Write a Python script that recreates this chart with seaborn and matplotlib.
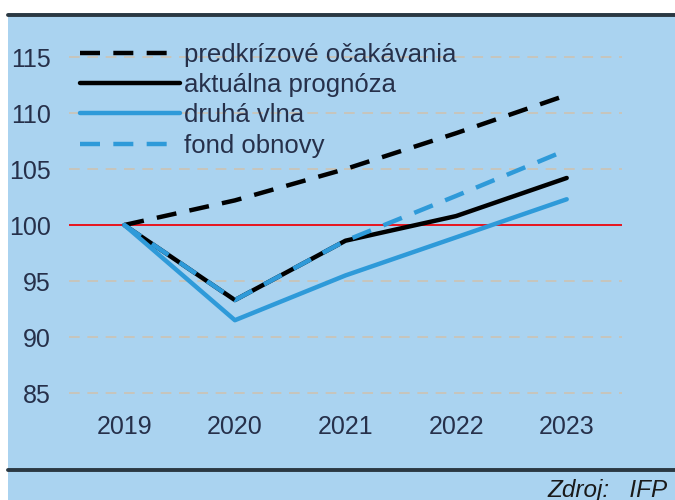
import matplotlib
matplotlib.use("Agg")
import matplotlib.pyplot as plt
from matplotlib.lines import Line2D
from matplotlib.patches import Rectangle
import pandas as pd
import seaborn as sns

years = [2019, 2020, 2021, 2022, 2023]
pred_crisis = [100, 102.2, 105.0, 108.2, 111.6]
current = [100, 93.3, 98.6, 100.8, 104.2]
second_wave = [100, 91.5, 95.5, 98.9, 102.3]
recovery_fund = [100, 93.3, 98.6, 102.6, 106.7]

names = ["predkrízové očakávania", "aktuálna prognóza", "druhá vlna", "fond obnovy"]
y_ticks = [85, 90, 95, 100, 105, 110, 115]

BG = "#aad3f0"
BLUE = "#2e9ad9"
TEXT = "#26304a"

df = pd.DataFrame({
    "rok": years * 4,
    "hodnota": pred_crisis + current + second_wave + recovery_fund,
    "scenár": [n for n in names for _ in years],
})

sns.set_style("white")
plt.rcParams["font.family"] = ["Liberation Sans", "DejaVu Sans"]

fig = plt.figure(figsize=(6.75, 5), dpi=100, facecolor=BG)
ax = fig.add_axes([69 / 675, 1 - 405 / 500, 553 / 675, 365 / 500])
ax.set_facecolor(BG)

# grid + red reference line
for t in y_ticks:
    if t != 100:
        gl = ax.axhline(t, color="#cfc2ae", lw=1.1, zorder=1.5)
        gl.set_dashes((7, 5))
ax.axhline(100, color="#e8141e", lw=1.4, zorder=1.6)

sns.lineplot(
    data=df, x="rok", y="hodnota", hue="scenár", style="scenár",
    hue_order=names, style_order=names,
    palette={names[0]: "black", names[1]: "black", names[2]: BLUE, names[3]: BLUE},
    dashes={names[0]: (4.5, 3), names[1]: "", names[2]: "", names[3]: (4.5, 3)},
    linewidth=3.2, ax=ax, zorder=3,
)

ax.set_xlim(2018.5, 2023.5)
ax.set_ylim(83.93, 116.52)
ax.set_xticks(years)
ax.set_yticks(y_ticks)
ax.set_xticklabels([str(y) for y in years])
ax.tick_params(axis="x", length=0, pad=7, labelsize=18, labelcolor=TEXT)
ax.tick_params(axis="y", length=0, pad=13, labelsize=18, labelcolor=TEXT)
ax.set_xlabel("")
ax.set_ylabel("")
sns.despine(ax=ax, left=True, bottom=True)

leg = ax.legend(
    loc="upper left", bbox_to_anchor=(6 / 553, 1 + 2 / 365), frameon=False,
    fontsize=18.5, handlelength=3.9, handletextpad=0.15, labelspacing=0.24,
    borderaxespad=0, borderpad=0.2,
)
for t in leg.get_texts():
    t.set_color(TEXT)

# white margins and dark rules
fig.add_artist(Rectangle((0, 0), 8 / 675, 1, transform=fig.transFigure,
                         facecolor="white", edgecolor="none", zorder=5))
fig.add_artist(Rectangle((0, 1 - 13 / 500), 1, 13 / 500, transform=fig.transFigure,
                         facecolor="white", edgecolor="none", zorder=5))
fig.add_artist(Line2D([8 / 675, 1], [1 - 14.5 / 500] * 2, transform=fig.transFigure,
                      color="#2b3842", lw=2.8, zorder=6))
fig.add_artist(Line2D([8 / 675, 1], [1 - 469.5 / 500] * 2, transform=fig.transFigure,
                      color="#2b3842", lw=2.8, zorder=6))
fig.text(668 / 675, 1 - 490 / 500, "Zdroj:   IFP", ha="right", va="center",
         fontsize=17.5, style="italic", color="#1a1a1a")

fig.savefig("out.png", dpi=100, facecolor=BG)
